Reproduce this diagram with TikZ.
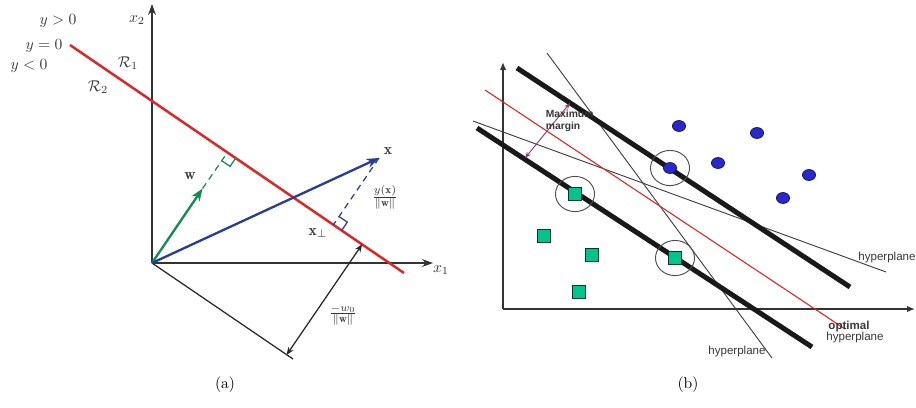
\documentclass[tikz,border=0pt]{standalone}
\usepackage{amssymb}
\usepackage{amsmath}
\usepackage{fontspec}
\usepackage{tikz}
\usetikzlibrary{
	arrows.meta, shapes.geometric, positioning, calc
}
\newfontfamily\arialfont{Liberation Sans}
\definecolor{planered}      {RGB}{218,  40,  38}
\definecolor{wgreen}        {RGB}{ 20, 140,  80}
\definecolor{xblue}         {RGB}{ 42,  62, 152}
\definecolor{ptblue}        {RGB}{ 40,  40, 205}
\definecolor{ptgreen}       {RGB}{  0, 196, 140}
\definecolor{marginpurple}  {RGB}{150,  60, 105}
\definecolor{labelgray}     {RGB}{ 55,  55,  55}

\begin{document}
\begin{tikzpicture}[x=0.64pt,y=-0.64pt,
	axisarrow/.style={black!80, line width=0.8pt, -{Stealth[length=7pt,width=5pt]}},
	vecarrow/.style={line width=1.5pt, -{Stealth[length=8pt,width=6pt]}},
	perpline/.style={line width=0.8pt, dash pattern=on 4pt off 3pt},
	bigline/.style={black!90, line width=3.2pt},
	thinline/.style={black!75, line width=0.6pt},
	mathlbl/.style={text=labelgray, inner sep=1pt},
	sanslbl/.style={font=\arialfont\fontsize{7.4}{8}\selectfont, text=labelgray, inner sep=1pt},
	bluept/.style={ellipse, draw=ptblue!50!black, fill=ptblue, line width=0.5pt, minimum width=8.4pt, minimum height=7pt, inner sep=0pt},
	greenpt/.style={rectangle, draw=ptgreen!30!black, fill=ptgreen, line width=0.5pt, minimum size=8.4pt, inner sep=0pt},
	svring/.style={ellipse, draw=black!70, line width=0.6pt, minimum width=25pt, minimum height=22.5pt}
]
	\useasboundingbox (0,0) rectangle (916,407);
	% (a)
	\coordinate (o)   at (152,263);
	\coordinate (x2t) at (152,4);
	\coordinate (x1t) at (433,263);
	\coordinate (ra)  at (70,45);
	\coordinate (rb)  at (404,273);
	\coordinate (fw)  at (227.4,152.5);
	\coordinate (wt)  at (202.6,188.5);
	\coordinate (xp)  at (379,158);
	\coordinate (fx)  at (333.4,224.8);
	\coordinate (bl)  at (293,359);
	\coordinate (da)  at (286.6,354.9);
	\coordinate (db)  at (362.1,244.4);
	\draw[axisarrow] (o) -- (x2t);
	\draw[axisarrow] (o) -- (x1t);
	\draw[black!85, line width=0.8pt] (o) -- (bl);
	\draw[planered, line width=1.6pt] (ra) -- (rb);
	\draw[wgreen, perpline] (wt) -- (fw);
	\draw[wgreen, line width=0.8pt] (235.7,158.1) -- (230.1,166.4) -- (221.8,160.8);
	\draw[xblue, perpline] (xp) -- (fx);
	\draw[xblue, line width=0.8pt] (341.7,230.4) -- (347.3,222.1) -- (339,216.5);
	\draw[vecarrow, wgreen] (o) -- (wt);
	\draw[vecarrow, xblue] (o) -- (xp);
	\draw[black!85, line width=0.8pt, {Stealth[length=5pt,width=4pt]}-{Stealth[length=5pt,width=4pt]}] (da) -- (db);
	\node[mathlbl] (lx2) at (137,20) {$x_2$};
	\node[mathlbl] (lx1) at (441,270) {$x_1$};
	\node[mathlbl] (lpos) at (58,21) {$y>0$};
	\node[mathlbl] (lzero) at (44,46) {$y=0$};
	\node[mathlbl] (lneg) at (29,66) {$y<0$};
	\node[mathlbl] (lr1) at (128,63) {$\mathcal{R}_1$};
	\node[mathlbl] (lr2) at (98,87) {$\mathcal{R}_2$};
	\node[mathlbl] (lw) at (190,176) {$\mathbf{w}$};
	\node[mathlbl] (lx) at (388,151) {$\mathbf{x}$};
	\node[mathlbl] (lxp) at (318,233) {$\mathbf{x}_\perp$};
	\node[mathlbl] (lyx) at (385,197) {$\frac{y(\mathbf{x})}{\|\mathbf{w}\|}$};
	\node[mathlbl] (lw0) at (343,315) {$\frac{-w_0}{\|\mathbf{w}\|}$};
	\node (capa) at (225,385) {(a)};
	% (b)
	\coordinate (b0) at (503,309);
	\coordinate (byt) at (503,62);
	\coordinate (bxt) at (915,309);
	\draw[black!80, line width=0.9pt, -{Latex[length=5pt,width=4pt]}] (b0) -- (byt);
	\draw[black!80, line width=0.9pt, -{Latex[length=5pt,width=4pt]}] (b0) -- (bxt);
	\draw[thinline] (547,53) coordinate (sa) -- (772,358) coordinate (sb);
	\draw[thinline] (473,121) coordinate (ha) -- (886,272) coordinate (hb);
	\draw[planered, line width=0.7pt] (485,90) coordinate (oa) -- (845,329) coordinate (ob);
	\draw[bigline] (517,68) coordinate (ua) -- (850,287) coordinate (ub);
	\draw[bigline] (477,128) coordinate (la) -- (812,347) coordinate (lb);
	\coordinate (ma) at (525,158);
	\coordinate (mb) at (570,103);
	\draw[marginpurple, line width=0.6pt, {Stealth[length=4pt,width=3pt]}-{Stealth[length=4pt,width=3pt]}] (ma) -- (mb);
	\foreach \p/\n in {(679,126)/1, (757,133)/2, (718,163)/3, (670,168)/4, (809,175)/5, (783,198)/6}
		\node[bluept] (blue\n) at \p {};
	\foreach \p/\n in {(575,194)/1, (544,236)/2, (592,255)/3, (675,258)/4, (579,292)/5}
		\node[greenpt] (green\n) at \p {};
	\node[svring] (ring1) at (blue4) {};
	\node[svring] (ring2) at (green1) {};
	\node[svring] (ring3) at (green4) {};
	\node[sanslbl, font=\arialfont\bfseries\fontsize{6.6}{7.6}\selectfont, align=left, anchor=west] (lmargin) at (544,121) {Maximum\\margin};
	\node[sanslbl] (lhyp1) at (887,258) {hyperplane};
	\node[sanslbl, font=\arialfont\bfseries\fontsize{7.4}{8}\selectfont] (lopt) at (849,327) {optimal};
	\node[sanslbl] (lhyp2) at (855,338) {hyperplane};
	\node[sanslbl] (lhyp3) at (737,352) {hyperplane};
	\node (capb) at (688,385) {(b)};
\end{tikzpicture}
\end{document}
